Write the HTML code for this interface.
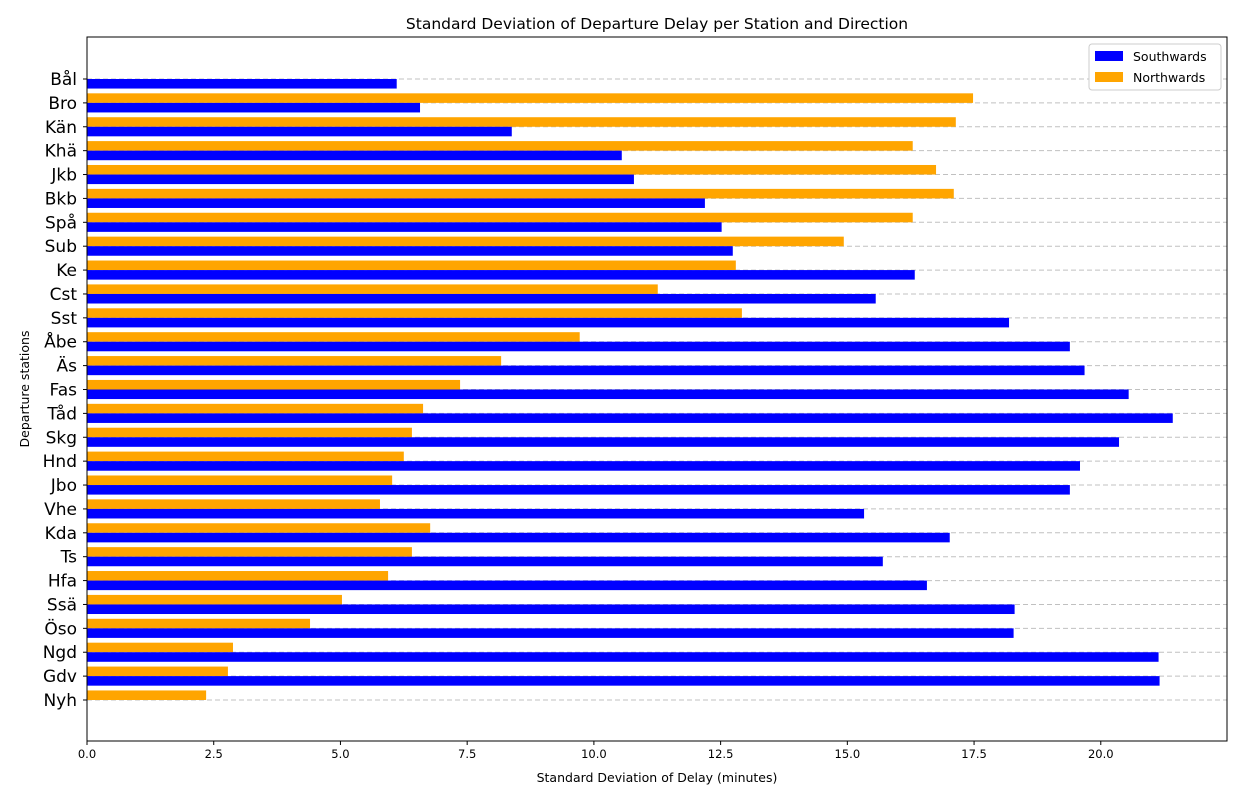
<!DOCTYPE html>
<html><head><meta charset="utf-8"><style>
body{margin:0;background:#fff;font-family:"Liberation Sans","DejaVu Sans",sans-serif;}
svg text{font-family:"DejaVu Sans","Liberation Sans",sans-serif;}
</style></head><body>
<svg id="c" width="1243" height="800"></svg>
<script>
const stations=["Bål","Bro","Kän","Khä","Jkb","Bkb","Spå","Sub","Ke","Cst","Sst","Åbe","Äs","Fas","Tåd","Skg","Hnd","Jbo","Vhe","Kda","Ts","Hfa","Ssä","Öso","Ngd","Gdv","Nyh"];
const south=[6.11,6.57,8.38,10.55,10.79,12.19,12.52,12.74,16.33,15.56,18.19,19.39,19.68,20.55,21.42,20.36,19.59,19.39,15.33,17.02,15.70,16.57,18.30,18.28,21.14,21.16,null];
const north=[null,17.48,17.14,16.29,16.75,17.10,16.29,14.93,12.80,11.26,12.92,9.72,8.17,7.36,6.63,6.41,6.25,6.02,5.78,6.77,6.41,5.94,5.03,4.40,2.88,2.78,2.35];
const xTicks=[0,2.5,5,7.5,10,12.5,15,17.5,20];
const xTickLabels=["0.0","2.5","5.0","7.5","10.0","12.5","15.0","17.5","20.0"];
const L=87,R=1227,T=37,B=741,XMAX=22.49;
const x=v=>L+v/XMAX*(R-L);
const y0=79,step=(700-79)/26;
const y=i=>y0+i*step;
const svg=document.getElementById('c');const NS="http://www.w3.org/2000/svg";
function mk(t,a,txt){const e=document.createElementNS(NS,t);for(const k in a)e.setAttribute(k,a[k]);if(txt!=null)e.textContent=txt;svg.appendChild(e);return e;}
stations.forEach((s,i)=>{
 const g=mk('line',{x1:L,x2:R,y1:y(i),y2:y(i),stroke:'#c0c0c0','stroke-dasharray':'5,3','stroke-width':1});
 
 
});
const bh=step*0.4;
stations.forEach((s,i)=>{
 if(north[i]!=null){const r=mk('rect',{x:L,y:y(i)-bh,width:x(north[i])-L,height:bh,fill:'#ffa500'});
 
 }
 if(south[i]!=null){const r=mk('rect',{x:L,y:y(i),width:x(south[i])-L,height:bh,fill:'#0000ff'});
 
 }
 mk('line',{x1:L-4,x2:L,y1:y(i),y2:y(i),stroke:'#000'});
 const t=mk('text',{x:L-10,y:y(i)+6,'text-anchor':'end','font-size':17},s);
 
 
});
xTicks.forEach((v,i)=>{
 mk('line',{x1:x(v),x2:x(v),y1:B,y2:B+4,stroke:'#000'});
 const t=mk('text',{x:x(v),y:B+17,'text-anchor':'middle','font-size':11.5},xTickLabels[i]);
 
 
});
const f=mk('rect',{x:L,y:T,width:R-L,height:B-T,fill:'none',stroke:'#000','stroke-width':1});

const ti=mk('text',{x:657,y:29,'text-anchor':'middle','font-size':15.5},'Standard Deviation of Departure Delay per Station and Direction');

const xl=mk('text',{x:657,y:782,'text-anchor':'middle','font-size':12.5},'Standard Deviation of Delay (minutes)');

const yl=mk('text',{x:29,y:389,'text-anchor':'middle','font-size':12.5,transform:'rotate(-90 29 389)'},'Departure stations');

const lg=mk('rect',{x:1089,y:44,width:132,height:46,fill:'#fff',stroke:'#ccc',rx:3});

mk('rect',{x:1095,y:51,width:28,height:10,fill:'#0000ff'});
const l1=mk('text',{x:1133,y:61,'font-size':12.5},'Southwards');

mk('rect',{x:1095,y:72,width:28,height:10,fill:'#ffa500'});
const l2=mk('text',{x:1133,y:82,'font-size':12.5},'Northwards');

</script>
</body></html>
